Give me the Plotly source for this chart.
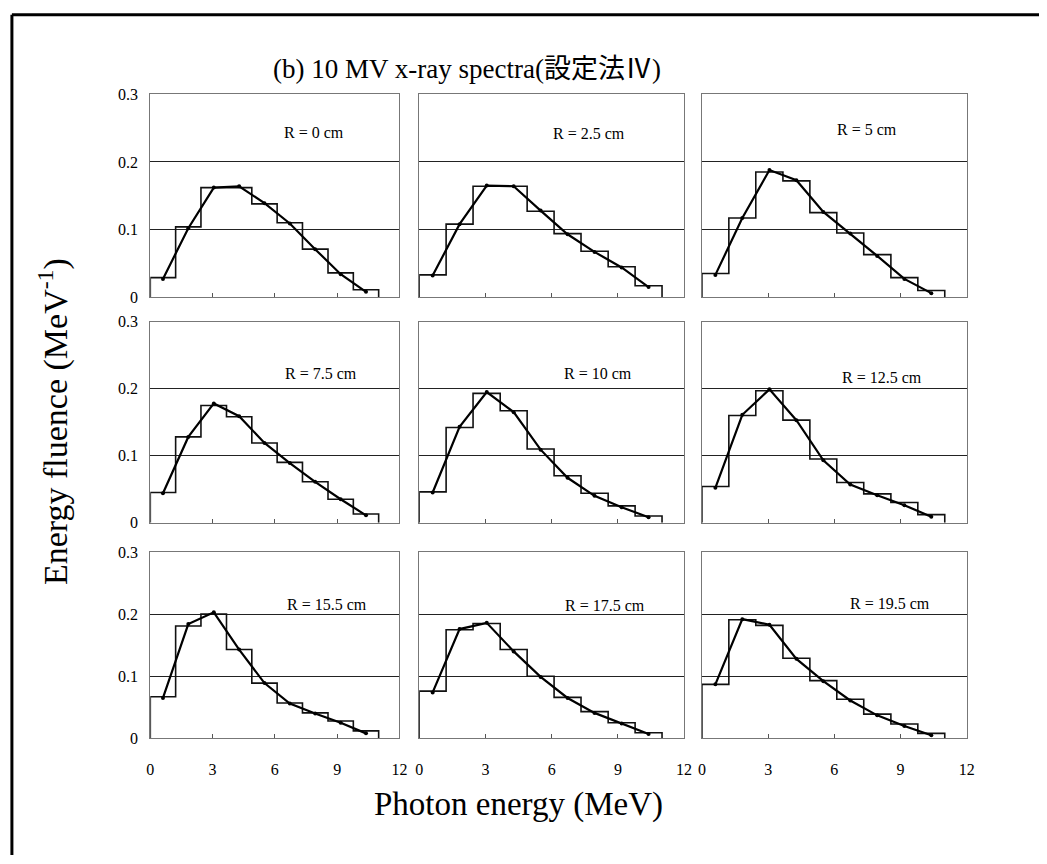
import plotly.graph_objects as go
from plotly.subplots import make_subplots

# bin edges / centres of the energy histogram (MeV)
energy_edges = [0, 1.22, 2.44, 3.67, 4.89, 6.11, 7.33, 8.56, 9.78, 11.0]
energy_centers = [0.61, 1.83, 3.06, 4.28, 5.5, 6.72, 7.94, 9.17, 10.39]

radius_labels = ["R = 0 cm", "R = 2.5 cm", "R = 5 cm",
                 "R = 7.5 cm", "R = 10 cm", "R = 12.5 cm",
                 "R = 15.5 cm", "R = 17.5 cm", "R = 19.5 cm"]

# histogram (step) values, MeV^-1
hist_r0 = [0.029, 0.104, 0.162, 0.162, 0.138, 0.110, 0.071, 0.036, 0.011]
hist_r25 = [0.033, 0.108, 0.164, 0.164, 0.127, 0.094, 0.068, 0.045, 0.017]
hist_r5 = [0.035, 0.117, 0.185, 0.172, 0.125, 0.095, 0.063, 0.029, 0.010]
hist_r75 = [0.045, 0.128, 0.175, 0.158, 0.119, 0.090, 0.061, 0.035, 0.013]
hist_r10 = [0.046, 0.142, 0.193, 0.167, 0.110, 0.070, 0.044, 0.025, 0.010]
hist_r125 = [0.054, 0.160, 0.197, 0.153, 0.095, 0.060, 0.043, 0.030, 0.012]
hist_r155 = [0.067, 0.181, 0.200, 0.143, 0.089, 0.057, 0.041, 0.028, 0.012]
hist_r175 = [0.076, 0.175, 0.185, 0.143, 0.100, 0.066, 0.043, 0.025, 0.009]
hist_r195 = [0.087, 0.191, 0.182, 0.129, 0.093, 0.063, 0.039, 0.023, 0.008]

# calculated points joined by a line, MeV^-1
pts_r0 = [0.027, 0.102, 0.162, 0.164, 0.139, 0.109, 0.071, 0.034, 0.008]
pts_r25 = [0.032, 0.108, 0.165, 0.164, 0.128, 0.093, 0.067, 0.044, 0.015]
pts_r5 = [0.033, 0.117, 0.188, 0.173, 0.126, 0.094, 0.061, 0.027, 0.006]
pts_r75 = [0.044, 0.128, 0.178, 0.159, 0.119, 0.089, 0.061, 0.035, 0.011]
pts_r10 = [0.045, 0.143, 0.195, 0.165, 0.109, 0.067, 0.040, 0.023, 0.008]
pts_r125 = [0.052, 0.161, 0.199, 0.153, 0.093, 0.057, 0.041, 0.026, 0.009]
pts_r155 = [0.065, 0.184, 0.203, 0.143, 0.089, 0.056, 0.040, 0.025, 0.008]
pts_r175 = [0.074, 0.176, 0.186, 0.140, 0.099, 0.065, 0.041, 0.024, 0.007]
pts_r195 = [0.087, 0.192, 0.183, 0.128, 0.092, 0.061, 0.037, 0.020, 0.005]

hists = [hist_r0, hist_r25, hist_r5, hist_r75, hist_r10,
         hist_r125, hist_r155, hist_r175, hist_r195]
points = [pts_r0, pts_r25, pts_r5, pts_r75, pts_r10,
          pts_r125, pts_r155, pts_r175, pts_r195]

W, H = 1047, 864
col_px = [(148, 400), (420, 688), (706, 974)]
row_px = [(88, 295), (320, 525), (555, 745)]
label_pos = [(7.9, 0.243), (7.7, 0.242), (7.5, 0.248),
             (8.2, 0.222), (8.1, 0.222), (8.15, 0.217),
             (8.5, 0.216), (8.4, 0.214), (8.5, 0.217)]

FONT = "Liberation Serif, Times New Roman, Noto Sans CJK JP, serif"

fig = make_subplots(rows=3, cols=3)

for i in range(9):
    r, c = i // 3 + 1, i % 3 + 1
    h = hists[i]
    # step outline: rise at x=0, steps across the bins, drop at the last edge
    xs = [energy_edges[0]] + energy_edges[:9] + [energy_edges[9]]
    ys = [0] + h + [0]
    fig.add_trace(
        go.Scatter(
            x=xs,
            y=ys,
            mode="lines",
            line_shape="hv",
            line=dict(color="#111111", width=1.6),
            showlegend=False,
            hoverinfo="skip",
        ),
        row=r,
        col=c,
    )
    fig.add_trace(
        go.Scatter(
            x=energy_centers,
            y=points[i],
            mode="lines+markers",
            line=dict(color="black", width=2.2),
            marker=dict(color="black", size=4),
            showlegend=False,
        ),
        row=r,
        col=c,
    )
    lx, ly = label_pos[i]
    fig.add_annotation(
        x=lx,
        y=ly,
        text=radius_labels[i],
        showarrow=False,
        font=dict(family=FONT, size=16, color="black"),
        row=r,
        col=c,
    )

for i in range(9):
    r, c = i // 3 + 1, i % 3 + 1
    x0, x1 = col_px[c - 1]
    y0, y1 = row_px[r - 1]
    fig.update_xaxes(
        domain=[x0 / W, x1 / W],
        range=[0, 12],
        tickvals=[0, 3, 6, 9, 12],
        ticktext=["0", "3", "6", "9", "12"],
        showticklabels=(r == 3),
        ticks="inside",
        ticklen=4,
        tickcolor="#555555",
        showgrid=False,
        zeroline=False,
        showline=True,
        mirror=True,
        linecolor="#777777",
        linewidth=1,
        ticklabelstandoff=16,
        tickfont=dict(family=FONT, size=16, color="black"),
        row=r,
        col=c,
    )
    fig.update_yaxes(
        domain=[1 - y1 / H, 1 - y0 / H],
        range=[0, 0.3],
        tickvals=[0, 0.1, 0.2, 0.3],
        ticktext=["0", "0.1", "0.2", "0.3"],
        showticklabels=(c == 1),
        ticks="",
        showgrid=True,
        gridcolor="#222222",
        gridwidth=1,
        zeroline=False,
        showline=True,
        mirror=True,
        linecolor="#777777",
        linewidth=1,
        ticklabelstandoff=8,
        tickfont=dict(family=FONT, size=16, color="black"),
        row=r,
        col=c,
    )

fig.add_annotation(
    x=468 / W, y=1 - 62 / H, xref="paper", yref="paper",
    xanchor="center", yanchor="middle",
    text="(b) 10 MV x-ray spectra(設定法Ⅳ)", showarrow=False,
    font=dict(family=FONT, size=27, color="black"),
)
fig.add_annotation(
    x=520 / W, y=1 - 812 / H, xref="paper", yref="paper",
    xanchor="center", yanchor="middle",
    text="Photon energy (MeV)", showarrow=False,
    font=dict(family=FONT, size=33, color="black"),
)
fig.add_annotation(
    x=50 / W, y=1 - 422 / H, xref="paper", yref="paper",
    xanchor="center", yanchor="middle",
    text="Energy fluence (MeV<sup>-1</sup>)", showarrow=False, textangle=-90,
    font=dict(family=FONT, size=34, color="black"),
)

# thick outer frame (left and top edges)
fig.add_shape(type="line", xref="paper", yref="paper",
              x0=8 / W, x1=8 / W, y0=0, y1=1 - 7 / H,
              line=dict(color="black", width=3))
fig.add_shape(type="line", xref="paper", yref="paper",
              x0=8 / W, x1=1, y0=1 - 7 / H, y1=1 - 7 / H,
              line=dict(color="black", width=3))

fig.update_layout(
    width=W,
    height=H,
    margin=dict(l=0, r=0, t=0, b=0),
    paper_bgcolor="white",
    plot_bgcolor="white",
    showlegend=False,
)

# drop the default page margin so the figure sits at the window's corner
fig.write_html(
    "out.html",
    config={"displayModeBar": False},
    post_script="document.body.style.margin='0';document.body.style.overflow='hidden';",
)
